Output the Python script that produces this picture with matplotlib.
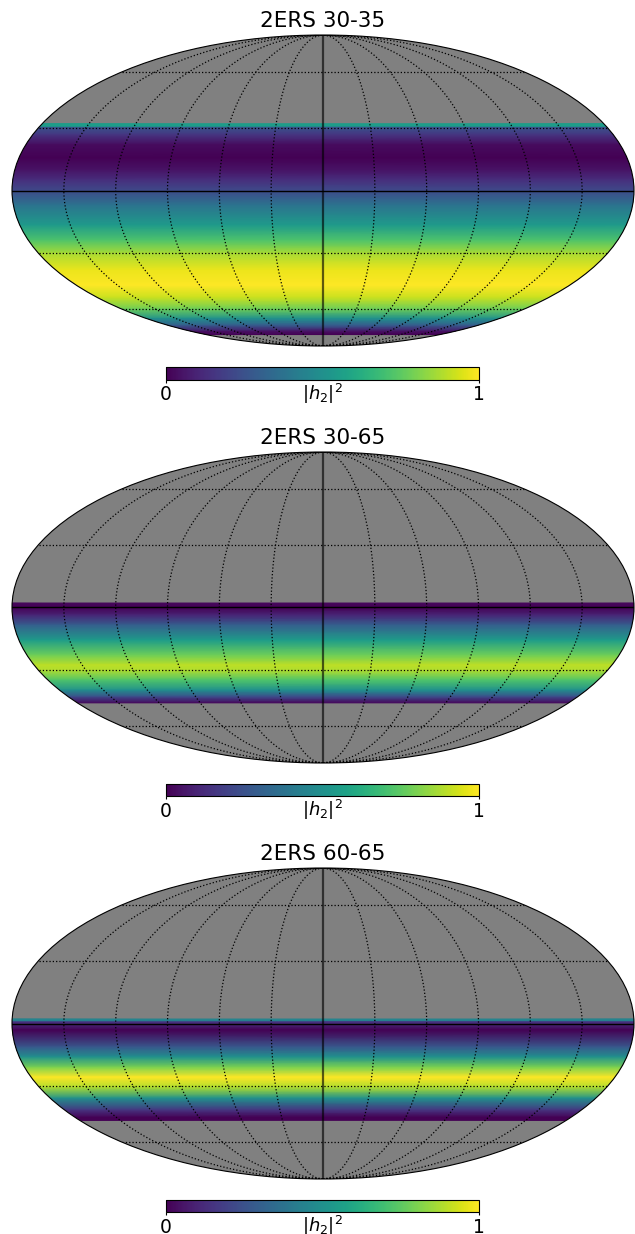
import numpy as np
import matplotlib
matplotlib.use('Agg')
import matplotlib.pyplot as plt
from matplotlib.ticker import FixedLocator

W, H = 635, 1234

titles = ['2ERS 30-35', '2ERS 30-65', '2ERS 60-65']

# latitude (deg) and |h2|^2
lat_a = [32, 30.5, 30, 26.4, 21.6, 15.4, 9.7, 5, 0, -6.9, -16.3, -23.6, -30, -38.6, -46.5, -53.2, -59.9, -66, -70.8, -75, -77.5]
val_a = [.55, .55, .25, .15, .03, 0, .05, .13, .22, .38, .54, .72, .87, .97, 1, .92, .78, .5, .28, .05, 0]

lat_b = [2.1, 0, -3.5, -8.3, -15.4, -22.6, -27.4, -30, -35, -40, -43.7, -46.8]
val_b = [.02, 0, .1, .3, .55, .78, .9, .88, .72, .5, .22, .02]

lat_c = [2.1, 1.2, .7, -3.1, -11.1, -15.8, -20.7, -25.5, -30.5, -36, -42.2, -46, -47.6]
val_c = [.45, .45, .15, 0, .27, .5, .8, 1, .88, .5, .15, 0, 0]

lats = [lat_a, lat_b, lat_c]
vals = [val_a, val_b, val_c]

grid_lon = [-150, -120, -90, -60, -30, 30, 60, 90, 120, 150]
grid_lat = [-60, -30, 30, 60]

map_tops = [35, 452, 868]
bar_tops = [367, 783.5, 1199.5]

fig = plt.figure(figsize=(W / 100, H / 100), dpi=100)

for i in range(3):
    ax = fig.add_axes([12 / W, 1 - (map_tops[i] + 311) / H, 622 / W, 311 / H], projection='mollweide')
    ax.set_facecolor('#808080')

    # two columns past the edge, the ellipse clips them
    lon = np.array([-1.15, 1.15]) * np.pi
    lat = np.radians(lats[i])
    z = np.tile(np.array(vals[i])[:, None], (1, 2))
    mesh = ax.pcolormesh(lon, lat, z, cmap='viridis', vmin=0, vmax=1, shading='gouraud')

    # graticule
    ax.set_longitude_grid_ends(90)
    ax.xaxis.set_major_locator(FixedLocator(np.radians(grid_lon)))
    ax.yaxis.set_major_locator(FixedLocator(np.radians(grid_lat)))
    ax.set_xticklabels([])
    ax.set_yticklabels([])
    ax.set_axisbelow(False)
    ax.grid(True, color='k', linestyle=':', linewidth=0.9)
    ax.tick_params(length=0)

    # solid equator and central meridian
    ax.plot([-np.pi, np.pi], [0, 0], color='k', lw=1, zorder=5)
    ax.plot([0, 0], [-np.pi / 2, np.pi / 2], color='k', lw=1.6, alpha=0.62, zorder=5)

    ax.spines['geo'].set_linewidth(0.8)
    ax.set_title(titles[i], fontsize=15.5, pad=5.5)

    cax = fig.add_axes([166 / W, 1 - (bar_tops[i] + 12.5) / H, 313 / W, 12.5 / H])
    cb = fig.colorbar(mesh, cax=cax, orientation='horizontal')
    cb.set_ticks([0, 1])
    cb.ax.tick_params(labelsize=13.5, length=2, pad=2.2)
    cb.set_label(r'$|h_2|^2$', fontsize=13, labelpad=-16.5)

fig.savefig('out.png', dpi=100)
